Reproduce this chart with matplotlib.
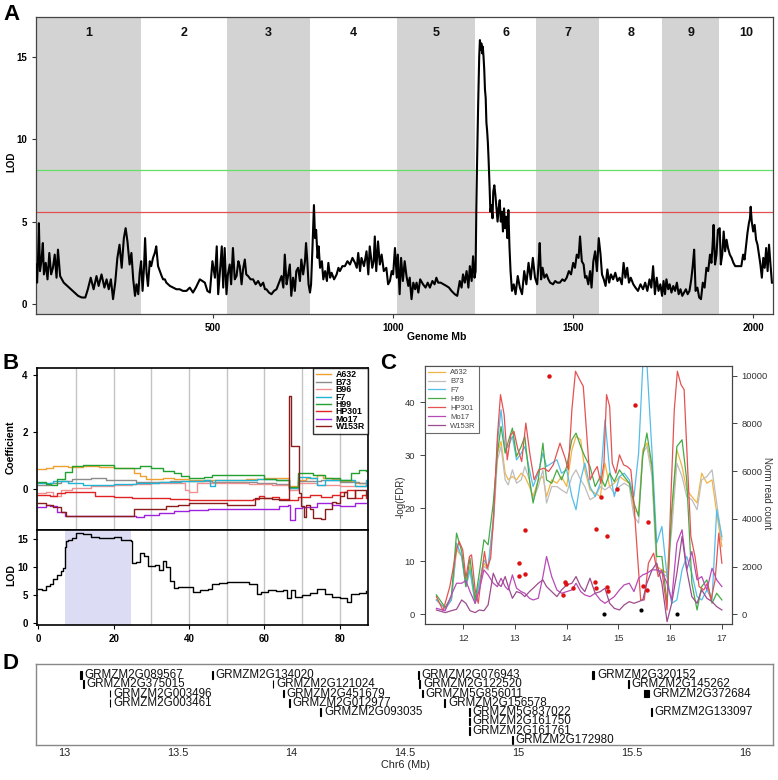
import numpy as np
import matplotlib
matplotlib.use("Agg")
import matplotlib.pyplot as plt
from matplotlib.patches import Rectangle
from matplotlib.ticker import FuncFormatter

plt.rcParams['font.family'] = ['Liberation Sans', 'DejaVu Sans']

W, H = 778, 780

# ---------------- Panel A data ----------------
CHR_LABELS = ['1', '2', '3', '4', '5', '6', '7', '8', '9', '10']
CHR_ENDS = [301, 538, 770, 1011, 1228, 1397, 1573, 1748, 1905, 2054]
A_THRESH_GREEN = 8.1
A_THRESH_RED = 5.6
A_POS = [
    # chr1
    8, 11, 14, 16, 19, 23, 27, 30, 35, 40, 45, 50, 55, 60, 65, 69, 75, 85, 95, 105,
    115, 125, 135, 145, 152, 160, 168, 176, 182, 190, 198, 204, 210, 216, 222, 228, 234, 240, 246, 252,
    257, 262, 268, 273, 278, 283, 287, 292, 296, 300,
    # chr2
    304, 308, 311, 315, 319, 324, 328, 333, 338, 342, 347, 352, 357, 361, 366, 370, 380, 389, 398, 407,
    416, 426, 435, 444, 452, 463, 470, 477, 484, 491, 498, 505, 510, 514, 519, 524, 528, 532, 537,
    # chr3
    541, 546, 550, 555, 560, 565, 570, 574, 579, 583, 588, 592, 597, 604, 611, 618, 625, 632, 639, 644,
    648, 655, 662, 669, 676, 683, 690, 695, 699, 704, 708, 713, 717, 722, 727, 731, 736, 741, 745, 750,
    755, 758, 761, 765, 769,
    # chr4
    772, 776, 780, 783, 786, 790, 793, 797, 802, 806, 811, 816, 820, 825, 829, 836, 843, 848, 852, 859,
    866, 873, 880, 887, 894, 899, 903, 908, 912, 919, 926, 931, 935, 942, 946, 949, 953, 958, 963, 968,
    974, 981, 986, 991, 996, 1000, 1005, 1010,
    # chr5
    1013, 1018, 1022, 1027, 1032, 1037, 1042, 1046, 1051, 1056, 1061, 1065, 1070, 1075, 1083, 1090, 1096,
    1102, 1109, 1115, 1120, 1125, 1132, 1140, 1148, 1155, 1162, 1171, 1178, 1185, 1190, 1194, 1199, 1204,
    1209, 1213, 1218, 1222, 1226,
    # chr6
    1229, 1231, 1233, 1236, 1239, 1241, 1243, 1245, 1247, 1249, 1251, 1253, 1255, 1257, 1259, 1261, 1263,
    1265, 1268, 1270, 1273, 1276, 1278, 1281, 1284, 1287, 1290, 1293, 1296, 1299, 1302, 1305, 1308, 1311,
    1314, 1317, 1320, 1323, 1326, 1330, 1335, 1340, 1346, 1352, 1358, 1364, 1370, 1376, 1382, 1388, 1394,
    # chr7
    1400, 1404, 1407, 1411, 1415, 1420, 1426, 1431, 1436, 1444, 1450, 1456, 1463, 1470, 1476, 1482, 1488,
    1494, 1500, 1505, 1510, 1515, 1519, 1524, 1529, 1533, 1537, 1542, 1547, 1551, 1556, 1561, 1566, 1571,
    # chr8
    1576, 1580, 1585, 1590, 1595, 1600, 1605, 1611, 1617, 1623, 1629, 1635, 1640, 1645, 1650, 1655, 1660,
    1667, 1673, 1680, 1687, 1694, 1700, 1706, 1712, 1717, 1722, 1727, 1732, 1737, 1742, 1747,
    # chr9
    1751, 1755, 1759, 1764, 1768, 1773, 1778, 1783, 1788, 1793, 1798, 1803, 1808, 1813, 1818, 1823, 1828,
    1832, 1836, 1840, 1845, 1850, 1855, 1860, 1865, 1870, 1875, 1880, 1884, 1887, 1890, 1894, 1898, 1902,
    # chr10
    1907, 1910, 1914, 1918, 1922, 1926, 1930, 1935, 1940, 1945, 1950, 1956, 1962, 1967, 1972, 1976, 1980,
    1984, 1988, 1991, 1993, 1996, 2000, 2004, 2008, 2012, 2016, 2020, 2024, 2028, 2032, 2036, 2040, 2044,
    2048, 2052,
]
A_LOD = [
    # chr1
    2.4, 1.3, 3.0, 4.9, 2.0, 2.6, 3.7, 1.8, 2.5, 1.5, 3.1, 1.8, 2.2, 3.0, 1.6, 3.3, 1.7, 1.3, 1.1, 0.9,
    0.7, 0.5, 0.4, 0.4, 0.9, 1.6, 0.9, 1.7, 1.1, 1.8, 1.0, 1.5, 0.9, 1.5, 0.3, 1.3, 2.8, 3.6, 2.2, 4.0,
    4.6, 3.8, 2.4, 3.1, 1.5, 0.5, 1.2, 0.6, 1.9, 2.6,
    # chr2
    0.8, 2.2, 4.0, 1.9, 1.1, 2.6, 2.3, 2.8, 3.1, 3.5, 2.3, 2.0, 1.7, 1.5, 1.5, 1.3, 1.1, 1.0, 0.9, 0.9,
    0.8, 0.8, 1.0, 0.7, 1.0, 1.5, 1.4, 1.3, 0.8, 0.7, 2.6, 1.6, 3.5, 0.6, 2.0, 3.5, 1.0, 3.4, 0.6,
    # chr3
    1.8, 2.4, 1.2, 3.4, 1.5, 1.7, 2.6, 2.3, 1.2, 2.1, 2.7, 1.8, 1.7, 1.5, 1.5, 1.2, 1.4, 1.1, 1.3, 0.9,
    0.9, 0.7, 0.6, 0.8, 0.9, 1.3, 1.7, 1.0, 3.0, 1.2, 1.7, 2.4, 0.5, 1.6, 0.8, 2.0, 2.2, 1.4, 2.7, 1.8,
    2.6, 3.7, 2.8, 1.2, 0.7,
    # chr4
    1.2, 3.5, 6.0, 4.0, 4.5, 2.8, 3.5, 2.2, 2.6, 1.5, 2.0, 1.4, 2.5, 1.6, 1.9, 1.5, 1.8, 2.2, 2.0, 2.3,
    2.3, 2.6, 2.4, 2.8, 2.5, 2.2, 3.1, 2.0, 2.8, 2.3, 3.2, 1.8, 3.5, 2.2, 2.6, 4.1, 2.0, 3.8, 2.4, 3.0,
    2.0, 2.2, 1.2, 1.4, 2.0, 1.8, 3.4, 1.6,
    # chr5
    3.0, 0.6, 2.8, 1.4, 2.6, 1.7, 1.1, 1.6, 0.3, 1.3, 0.9, 1.3, 0.7, 1.5, 1.2, 1.0, 1.3,
    1.0, 1.4, 1.2, 1.6, 1.3, 1.3, 1.2, 1.1, 1.0, 0.8, 0.6, 0.5, 1.4, 1.0, 1.8, 1.3, 2.0,
    1.0, 2.3, 1.4, 2.9, 1.6,
    # chr6
    2.0, 5.8, 8.5, 12.0, 15.0, 16.0, 15.4, 15.8, 15.2, 15.6, 15.0, 14.2, 13.0, 12.5, 11.0, 10.5, 9.8,
    8.8, 7.0, 5.6, 6.0, 5.2, 6.8, 7.2, 6.6, 5.8, 5.0, 5.8, 6.3, 5.0, 5.6, 4.4, 5.8, 4.6,
    5.3, 4.0, 5.7, 3.5, 2.0, 0.8, 1.2, 0.6, 1.7, 1.0, 0.6, 2.0, 1.2, 2.5, 1.5, 2.8, 1.6,
    # chr7
    1.2, 2.5, 3.7, 1.5, 2.2, 1.6, 1.8, 1.5, 1.3, 1.2, 1.4, 1.3, 1.3, 1.5, 1.4, 1.6, 2.0,
    1.8, 2.5, 2.2, 3.0, 2.8, 4.1, 2.6, 2.4, 1.6, 1.7, 1.2, 2.0, 1.0, 2.6, 3.2, 2.0, 4.0,
    # chr8
    3.0, 1.8, 1.5, 1.1, 2.1, 1.3, 1.8, 1.5, 1.9, 1.4, 1.6, 1.2, 2.5, 1.6, 2.2, 1.3, 1.6,
    1.2, 1.0, 0.8, 1.2, 0.9, 1.3, 0.8, 1.5, 1.0, 2.3, 0.6, 1.6, 0.8, 1.2, 0.5,
    # chr9
    1.4, 0.6, 1.5, 0.9, 1.2, 0.7, 1.1, 0.8, 1.3, 0.6, 0.9, 0.5, 0.7, 0.9, 0.6, 0.8, 1.5,
    2.3, 3.3, 0.8, 1.0, 0.4, 0.3, 1.3, 1.0, 2.2, 2.0, 3.0, 2.5, 3.5, 4.8, 2.4, 3.0, 4.5,
    # chr10
    4.6, 2.4, 3.0, 4.4, 3.2, 3.9, 3.4, 3.0, 2.8, 2.5, 2.3, 2.3, 2.3, 2.3, 3.0, 2.7, 3.5,
    4.3, 4.9, 5.2, 5.9, 5.0, 4.4, 4.8, 3.9, 3.6, 3.0, 2.4, 1.6, 2.8, 2.2, 3.4, 2.0, 3.6,
    2.4, 1.3,
]

# ---------------- Panel B data ----------------
B_NAMES = ['A632', 'B73', 'B96', 'F7', 'H99', 'HP301', 'Mo17', 'W153R']
B_COLORS = ['#f0a030', '#8c8c8c', '#f09090', '#20b4d4', '#22a032', '#e02222', '#a020e0', '#8b1c1c']
A632_X = [0, 2, 4, 8, 12, 16, 20, 24, 25.5, 27, 28.5, 33, 36, 40, 45, 50, 55, 60, 63, 66.5, 69, 71, 74, 75.5, 78, 80, 84, 87]
A632_Y = [0.70, 0.75, 0.80, 0.78, 0.80, 0.76, 0.75, 0.72, 0.55, 0.45, 0.35, 0.40, 0.35, 0.32, 0.33, 0.30, 0.35, 0.40, 0.38, 0.12, 0.32, 0.37, 0.50, 0.37, 0.35, 0.28, 0.22, 0.15]
B73_X = [0, 3, 6, 9, 14, 18, 22, 26, 30, 35, 40, 46, 52, 58, 63, 66.5, 69, 75, 80, 85, 87]
B73_Y = [0.15, 0.20, 0.28, 0.35, 0.38, 0.33, 0.30, 0.26, 0.24, 0.27, 0.28, 0.25, 0.23, 0.20, 0.18, 0.05, 0.27, 0.30, 0.26, 0.22, 0.22]
B96_X = [0, 2, 4, 6, 9, 14, 20, 25, 30, 34, 39, 40, 42, 44, 50, 56, 62, 66.5, 69, 74, 80, 87]
B96_Y = [-0.15, -0.10, -0.25, -0.05, 0.05, 0.10, 0.15, 0.18, 0.22, 0.20, -0.05, -0.12, 0.20, 0.22, 0.20, 0.18, 0.14, -0.05, 0.20, 0.15, 0.12, 0.12]
F7_X = [0, 4, 8, 12, 16, 20, 26, 32, 38, 44, 45.5, 47, 52, 58, 63, 66.5, 69, 72, 74, 76, 79, 82, 84, 87]
F7_Y = [0.20, 0.28, 0.22, 0.15, 0.15, 0.18, 0.22, 0.25, 0.28, 0.30, 0.10, 0.32, 0.33, 0.36, 0.33, 0.05, 0.43, 0.40, 0.14, 0.30, 0.32, 0.30, 0.10, 0.30]
H99_X = [0, 2, 3.5, 5, 7, 9, 12, 16, 20, 25, 27, 30, 33, 36, 38, 40, 44, 46, 50, 55, 58, 60, 63, 66.5, 69, 73, 76, 80, 83, 85, 87]
H99_Y = [0.25, 0.18, 0.15, 0.35, 0.60, 0.80, 0.85, 0.83, 0.75, 0.75, 0.80, 0.72, 0.62, 0.55, 0.45, 0.40, 0.42, 0.50, 0.50, 0.50, 0.50, 0.35, 0.32, 0.08, 0.55, 0.48, 0.40, 0.32, 0.55, 0.67, 0.62]
HP301_X = [0, 3, 5, 7, 10, 14, 15, 20, 25, 30, 35, 40, 45, 50, 55, 57, 58.5, 60, 62, 64, 66.5, 69, 72, 75, 78, 80, 82, 84, 86, 87]
HP301_Y = [-0.22, -0.25, -0.15, -0.12, -0.10, -0.10, -0.25, -0.28, -0.30, -0.32, -0.35, -0.38, -0.40, -0.38, -0.40, -0.35, -0.25, -0.30, -0.28, -0.35, -0.40, -0.27, -0.22, -0.28, -0.20, -0.10, -0.05, -0.30, -0.20, -0.33]
MO17_X = [0, 2, 3, 5, 7, 10, 15, 20, 26, 28, 32, 36, 40, 45, 50, 55, 60, 64, 66.3, 66.7, 68, 70, 74, 78, 80, 84, 87]
MO17_Y = [-0.62, -0.55, -0.60, -0.80, -0.95, -0.95, -0.95, -0.96, -1.00, -0.92, -0.85, -0.78, -0.75, -0.70, -0.70, -0.72, -0.72, -0.60, -0.55, -1.10, -0.65, -0.62, -0.50, -0.55, -0.60, -0.50, -0.50]
W153R_X = [0, 2, 4, 6, 7.5, 10, 15, 20, 24, 25.5, 30, 34, 37, 40, 45, 50, 55, 57.5, 59, 62, 64, 66.5, 66.6, 67, 69.2, 69.6, 70.5, 71, 72, 73, 75, 76, 78, 79, 80, 81, 82, 84, 87]
W153R_Y = [-0.50, -0.55, -0.62, -0.80, -0.95, -0.95, -0.95, -0.95, -0.95, -0.70, -0.70, -0.60, -0.55, -0.50, -0.50, -0.55, -0.55, -0.30, -0.30, -0.35, -0.40, -0.40, 3.25, 1.50, -0.15, -0.60, -0.97, -0.55, -0.70, -1.03, -1.05, -0.70, -0.45, -0.50, -0.25, -0.10, -0.30, -0.05, -0.20]
B_X = [A632_X, B73_X, B96_X, F7_X, H99_X, HP301_X, MO17_X, W153R_X]
B_Y = [A632_Y, B73_Y, B96_Y, F7_Y, H99_Y, HP301_Y, MO17_Y, W153R_Y]

BLOD_X = [0, 1, 2, 3, 4, 5, 6, 6.5, 7, 7.5, 8, 9, 10, 12, 14, 16, 18, 20, 21.5, 22, 24.5, 25, 26, 27, 28, 29, 30, 31,
          32, 33, 34, 35, 36, 37, 39, 41, 43, 45, 46, 48, 50, 53, 56, 58, 59, 61, 63, 65, 66, 67, 68, 70, 72, 74, 76,
          78, 80, 82, 83, 85, 87]
BLOD_Y = [6.1, 5.8, 6.5, 7.0, 7.8, 8.5, 9.3, 9.8, 13.5, 14.6, 14.8, 15.2, 16.0, 15.8, 15.3, 15.1, 15.1, 15.4, 15.3,
          14.8, 14.6, 10.7, 10.8, 12.5, 12.0, 10.2, 10.1, 10.3, 9.5, 11.0, 10.0, 7.5, 6.2, 6.4, 6.3, 5.5, 5.8, 6.0,
          7.0, 7.1, 7.2, 7.2, 7.0, 5.2, 5.5, 5.8, 5.6, 5.9, 4.4, 5.8, 4.5, 4.9, 5.3, 6.1, 5.2, 4.6, 4.4, 3.7, 5.2,
          5.3, 5.6]
B_CI = (7.1, 24.5)

# ---------------- Panel C data ----------------
C_NAMES = ['A632', 'B73', 'F7', 'H99', 'HP301', 'Mo17', 'W153R']
C_COLORS = ['#f2b445', '#bdbdbd', '#55bde9', '#45ab45', '#e45252', '#b84ab8', '#9c4c8e']
C_GRID = [11.48, 11.65, 11.77, 11.87, 11.97, 12.05, 12.13, 12.23, 12.31, 12.40, 12.48, 12.58, 12.66, 12.73,
          12.81, 12.87, 12.95, 13.03, 13.12, 13.19, 13.28, 13.35, 13.45, 13.54, 13.61, 13.71, 13.81, 13.90,
          14.00, 14.10, 14.18, 14.27, 14.35, 14.45, 14.55, 14.65, 14.74, 14.83, 14.92, 15.02, 15.11, 15.21,
          15.30, 15.39, 15.47, 15.55, 15.65, 15.74, 15.84, 15.94, 16.03, 16.13, 16.23, 16.32, 16.42, 16.52,
          16.61, 16.71, 16.81, 16.90, 17.00]
C_A632 = [600, 250, 600, 2700, 2420, 1300, 2000, 460, 1300, 2140, 1860, 3820, 6750, 7240, 5910, 5630, 5770,
          5630, 5910, 5770, 5350, 4930, 5630, 5770, 4930, 5630, 5490, 5770, 5350, 6890, 7450, 7310, 6050, 5210,
          5070, 4930, 6330, 5350, 5490, 5770, 5630, 5490, 4380, 4240, 6890, 7170, 6050, 2000, 1860, 1720, 3960,
          6890, 6190, 5210, 4930, 4660, 5910, 5490, 5630, 4240, 2840]
C_B73 = [600, 210, 600, 2840, 2420, 1160, 1860, 460, 1300, 2000, 1860, 3680, 6470, 7030, 5630, 5420, 6050,
         5490, 5630, 6190, 5630, 4800, 5350, 6050, 4660, 5350, 5350, 5210, 5070, 5770, 6050, 5630, 5350, 4800,
         4930, 5350, 5210, 5350, 5070, 5350, 5490, 5350, 4100, 3820, 6750, 7030, 5770, 1860, 1720, 1580, 3540,
         6330, 5770, 4930, 4800, 4380, 5630, 5770, 6050, 4660, 3120]
C_F7 = [600, 250, 600, 2980, 2420, 1160, 1860, 460, 1300, 2280, 2000, 3960, 7170, 8570, 6890, 7030, 7450,
        6470, 6750, 7030, 6050, 5350, 5910, 6750, 6190, 6330, 6470, 5910, 6050, 4930, 4380, 5630, 6330, 5350,
        4930, 5490, 8150, 6050, 4930, 5770, 5910, 5630, 4930, 6750, 10390, 10530, 6750, 2980, 3680, 1580, 460,
        600, 1860, 2420, 1720, 740, 600, 1020, 600, 4380, 3260]
C_H99 = [810, 290, 740, 3400, 2630, 1160, 2350, 600, 1720, 3120, 2910, 4660, 6750, 7870, 6750, 7240, 7800,
         6610, 7030, 7450, 5630, 4660, 5630, 7170, 5630, 5490, 6050, 5630, 6190, 7310, 7590, 7030, 6610, 6190,
         5350, 5770, 5350, 5910, 5560, 6050, 5770, 5490, 4660, 4100, 6610, 7590, 6190, 2420, 2420, 460, 4380,
         7030, 7310, 5630, 1300, 180, 1160, 1440, 460, 880, 600]
C_MO17 = [250, 150, 810, 1300, 1300, 1410, 950, 460, 1020, 1860, 1650, 1300, 1160, 1510, 1160, 1020, 1650,
          1090, 950, 880, 670, 600, 670, 1580, 2420, 1580, 1020, 880, 950, 1020, 1300, 950, 810, 740, 880, 600,
          460, 600, 740, 1020, 1230, 1300, 950, 1510, 1650, 1720, 1860, 1860, 1790, 1300, 600, 2980, 3540, 1860,
          2630, 1440, 1580, 1020, 1930, 1440, 1160]
C_W153R = [180, 70, 150, 210, 600, 460, 150, 70, 180, 150, 390, 1720, 1300, 1160, 1580, 1160, 670, 950, 880,
           740, 950, 1090, 1300, 1440, 1160, 950, 740, 1020, 1230, 1300, 1580, 1160, 950, 1510, 880, 950, 1090,
           460, 250, 180, 390, 530, 460, 530, 600, 1300, 1860, 2140, 1300, -310, 460, 1720, 3260, 1860, 740, 460,
           1020, 670, 530, 320, 180]
HP301_CX = [11.48, 11.61, 11.74, 11.87, 11.92, 11.99, 12.05, 12.12, 12.16, 12.23, 12.29, 12.35, 12.41, 12.46,
            12.53, 12.59, 12.66, 12.72, 12.79, 12.85, 12.92, 12.98, 13.05, 13.13, 13.21, 13.29, 13.37, 13.46,
            13.56, 13.65, 13.74, 13.87, 13.97, 14.03, 14.10, 14.17, 14.25, 14.32, 14.39, 14.45, 14.53, 14.59,
            14.66, 14.72, 14.77, 14.83, 14.88, 14.95, 15.02, 15.10, 15.17, 15.24, 15.30, 15.37, 15.43, 15.50,
            15.58, 15.68, 15.77, 15.84, 15.94, 16.01, 16.08, 16.14, 16.21, 16.27, 16.34, 16.40, 16.48, 16.56,
            16.65, 16.72, 16.79, 16.87, 16.94, 17.00]
C_HP301 = [740, 150, 1160, 2700, 3050, 2700, 1510, 2420, 2490, 1020, 460, 1580, 2630, 1930, 2350, 4240, 7450,
           9200, 8360, 6470, 7520, 7660, 6960, 6400, 8010, 6680, 5630, 6050, 6120, 5980, 6260, 7170, 6540, 6050,
           8570, 10180, 9830, 9550, 7450, 5630, 5980, 6190, 5490, 6330, 9200, 8710, 6330, 5910, 6680, 6260, 6190,
           6050, 4660, 2420, 600, 600, 2140, 2560, 1580, 1860, 180, 4660, 8570, 10180, 9620, 9410, 6050, 3260,
           2420, 1160, 1020, 1300, 600, 1440, 3400, 2140]
RED_X = [13.66, 15.32, 13.08, 13.08, 13.20, 13.20, 13.92, 13.97, 13.99, 14.12, 14.56, 14.55, 14.57, 14.67,
         14.77, 14.77, 14.79, 14.97, 15.58, 15.48, 15.55]
RED_Y = [45.0, 39.4, 9.6, 7.3, 15.9, 7.6, 3.6, 6.0, 5.7, 4.9, 16.0, 6.1, 4.9, 22.1, 14.7, 5.2, 4.3, 23.6,
         17.4, 5.3, 4.6]
BLACK_X = [14.73, 15.43, 16.14]
BLACK_Y = [0.0, 0.9, 0.0]

# ---------------- Panel D data ----------------
GENE_NAMES = ['GRMZM2G089567', 'GRMZM2G134020', 'GRMZM2G076943', 'GRMZM2G320152',
              'GRMZM2G375015', 'GRMZM2G121024', 'GRMZM2G122520', 'GRMZM2G145262',
              'GRMZM2G003496', 'GRMZM2G451679', 'GRMZM5G856011', 'GRMZM2G372684',
              'GRMZM2G003461', 'GRMZM2G012977', 'GRMZM2G156578',
              'GRMZM2G093035', 'GRMZM5G837022', 'GRMZM2G133097',
              'GRMZM2G161750', 'GRMZM2G161761', 'GRMZM2G172980']
GENE_START = [13.072, 13.652, 14.560, 15.328,
              13.084, 13.920, 14.566, 15.484,
              13.201, 13.965, 14.578, 15.556,
              13.201, 13.992, 14.676,
              14.130, 14.784, 15.587,
              14.784, 14.784, 14.975]
GENE_END = [13.080, 13.655, 14.563, 15.336,
            13.087, 13.923, 14.569, 15.487,
            13.204, 13.968, 14.581, 15.578,
            13.204, 13.995, 14.679,
            14.133, 14.787, 15.590,
            14.787, 14.787, 14.978]
GENE_ROW = [1, 1, 1, 1, 2, 2, 2, 2, 3, 3, 3, 3, 4, 4, 4, 5, 5, 5, 6, 7, 8]


def fx(px):
    return px / W


def fy(py):
    return 1 - py / H


def rect(l, t, r, b):
    return [l / W, 1 - b / H, (r - l) / W, (b - t) / H]


fig = plt.figure(figsize=(W / 100, H / 100), dpi=100)

# ================= Panel A =================
axA = fig.add_axes(rect(36, 17, 773, 314))
axA.set_xlim(8, 2055)
axA.set_ylim(-0.6, 17.4)
starts = [0] + CHR_ENDS[:-1]
for i, (s, e) in enumerate(zip(starts, CHR_ENDS)):
    if i % 2 == 0:
        axA.axvspan(max(s, 8), e, color='#d3d3d3', lw=0, zorder=0)
    axA.text((max(s, 8) + e) / 2, 16.45, CHR_LABELS[i], ha='center', va='center',
             fontsize=9, fontweight='bold', color='#111')
axA.axhline(A_THRESH_GREEN, color='#66dd66', lw=0.9, zorder=1)
axA.axhline(A_THRESH_RED, color='#e05050', lw=0.9, zorder=1)
axA.plot(A_POS, A_LOD, color='black', lw=1.5, zorder=3)
axA.set_yticks([0, 5, 10, 15])
axA.set_xticks([500, 1000, 1500, 2000])
axA.tick_params(labelsize=7, length=3, width=0.8, color='#333')
for lab in axA.get_xticklabels() + axA.get_yticklabels():
    lab.set_fontweight('bold')
for sp in axA.spines.values():
    sp.set_color('#444')
    sp.set_linewidth(0.9)
fig.text(fx(11.5), fy(162), 'LOD', rotation=90, ha='center', va='center', fontsize=7, fontweight='bold')
fig.text(fx(437), fy(337), 'Genome Mb', ha='center', va='center', fontsize=7.5, fontweight='bold')

# ================= Panel B =================
axB1 = fig.add_axes(rect(36.7, 367.7, 367.7, 530))
axB2 = fig.add_axes(rect(36.7, 530, 367.7, 625.3))
for ax in (axB1, axB2):
    ax.set_xlim(-0.4, 87.4)
    for gx in range(10, 90, 10):
        ax.axvline(gx, color='#c4c4c4', lw=1.0, zorder=0)
    for sp in ax.spines.values():
        sp.set_color('black')
        sp.set_linewidth(1.2)
    ax.tick_params(labelsize=7, length=3, width=0.8)
axB1.set_ylim(-1.44, 4.26)
axB2.set_ylim(-0.5, 16.6)
handles = []
for name, col, xs, ys in zip(B_NAMES, B_COLORS, B_X, B_Y):
    h, = axB1.plot(xs, ys, drawstyle='steps-post', color=col, lw=1.0, label=name)
    handles.append(h)
axB1.set_yticks([0, 2, 4])
axB1.set_xticks([])
leg = axB1.legend(handles=handles, loc='upper right', bbox_to_anchor=(1.0, 1.0), borderaxespad=0,
                  prop={'weight': 'bold', 'size': 6.3}, handlelength=1.8, labelspacing=-0.18,
                  borderpad=0.3, handletextpad=0.5, frameon=True, fancybox=False)
leg.get_frame().set_edgecolor('black')
leg.get_frame().set_linewidth(1.0)
axB2.axvspan(B_CI[0], B_CI[1], color='#dcdcf4', lw=0, zorder=0)
axB2.plot(BLOD_X, BLOD_Y, drawstyle='steps-post', color='black', lw=1.0)
axB2.set_yticks([0, 5, 10, 15])
axB2.set_xticks([0, 20, 40, 60, 80])
for ax in (axB1, axB2):
    for lab in ax.get_xticklabels() + ax.get_yticklabels():
        lab.set_fontweight('bold')
fig.text(fx(11), fy(447), 'Coefficient', rotation=90, ha='center', va='center', fontsize=7.5, fontweight='bold')
fig.text(fx(11), fy(575), 'LOD', rotation=90, ha='center', va='center', fontsize=7.5, fontweight='bold')

# ================= Panel C =================
axC = fig.add_axes(rect(425, 366, 731.7, 624))
axC2 = axC.twinx()
axC.set_xlim(11.26, 17.19)
axC.set_ylim(-1.83, 46.8)
axC2.set_ylim(-407, 10400)
c_series = [C_A632, C_B73, C_F7, C_H99, None, C_MO17, C_W153R]
c_handles = []
for name, col, ys in zip(C_NAMES, C_COLORS, c_series):
    if name == 'HP301':
        h, = axC2.plot(HP301_CX, C_HP301, color=col, lw=0.9, label=name)
    else:
        h, = axC2.plot(C_GRID, ys, color=col, lw=0.9, label=name)
    c_handles.append(h)
axC.set_zorder(axC2.get_zorder() + 1)
axC.patch.set_visible(False)
axC.plot(RED_X, RED_Y, 'o', color='#dd1111', ms=3.2, mec='none')
axC.plot(BLACK_X, BLACK_Y, 'o', color='black', ms=3.0, mec='none')
axC.set_yticks([0, 10, 20, 30, 40])
axC.set_xticks([12, 13, 14, 15, 16, 17])
axC2.set_yticks([0, 2000, 4000, 6000, 8000, 10000])
for ax in (axC, axC2):
    ax.tick_params(labelsize=6.8, length=3.5, width=0.7, color='#444', labelcolor='#333')
    for sp in ax.spines.values():
        sp.set_color('#444')
        sp.set_linewidth(0.8)
legC = axC.legend(handles=c_handles, loc='upper left', bbox_to_anchor=(0.0, 1.0), borderaxespad=0,
                  fontsize=5.5, handlelength=2.2, labelspacing=0.2, borderpad=0.4, handletextpad=0.7,
                  frameon=True, fancybox=False)
legC.get_frame().set_edgecolor('#444')
legC.get_frame().set_linewidth(0.8)
for t in legC.get_texts():
    t.set_color('#444')
fig.text(fx(401), fy(497), '-log(FDR)', rotation=90, ha='center', va='center', fontsize=7, color='#333')
fig.text(fx(767), fy(493), 'Norm read count', rotation=270, ha='center', va='center', fontsize=7, color='#333')

# ================= Panel D =================
axD = fig.add_axes(rect(36, 664, 772.7, 745))
axD.set_xlim(12.877, 16.122)
axD.set_ylim(8.54, -0.18)
axD.set_yticks([])
axD.set_xticks([13, 13.5, 14, 14.5, 15, 15.5, 16])
axD.xaxis.set_major_formatter(FuncFormatter(lambda v, p: '%g' % v))
axD.tick_params(axis='x', length=0, pad=2.5, labelsize=7.8, labelcolor='#222')
for sp in axD.spines.values():
    sp.set_color('#888')
    sp.set_linewidth(1.0)
for name, s, e, r in zip(GENE_NAMES, GENE_START, GENE_END, GENE_ROW):
    axD.add_patch(Rectangle((s, r - 0.42), e - s, 0.84, facecolor='black', edgecolor='black', lw=0.8))
    axD.annotate(name, (e, r), xytext=(2.0, 0), textcoords='offset points', ha='left', va='center',
                 fontsize=8.4, color='#111')
fig.text(fx(405), fy(765), 'Chr6 (Mb)', ha='center', va='center', fontsize=7.8, color='#222')

# panel letters
for letter, (px, py) in zip('ABCD', [(3, 4), (3, 353), (380, 353), (3, 653)]):
    fig.text(fx(px), fy(py), letter, ha='left', va='top', fontsize=16, fontweight='bold')

fig.savefig('out.png', dpi=100)
